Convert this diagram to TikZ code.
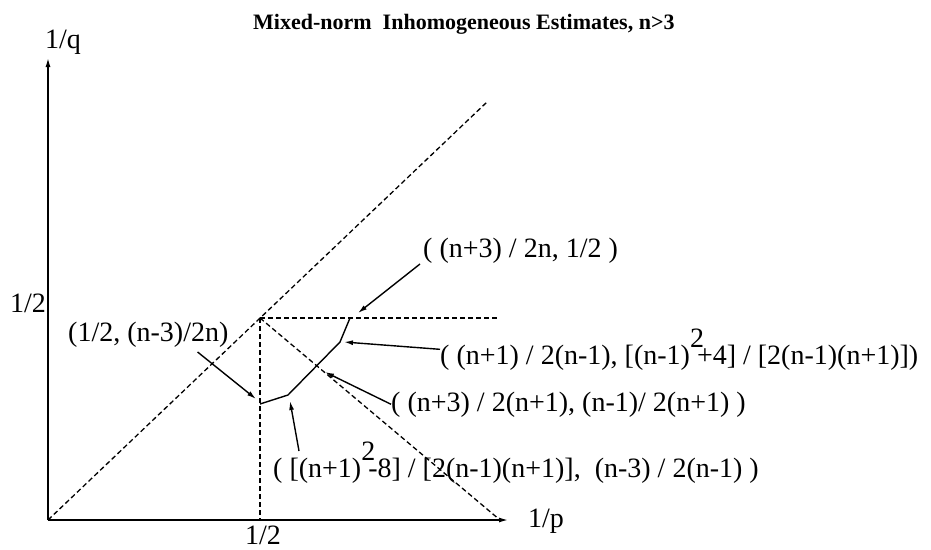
\documentclass[tikz,border=0pt]{standalone}
\usepackage{fontspec}
\setmainfont{Liberation Serif}
\usetikzlibrary{arrows.meta, positioning, calc}
\newcommand{\raisedtwo}{\raisebox{0.6em}{2}\kern-0.25em}
\tikzset{
  lbl/.style={inner sep=0pt, anchor=base west, font=\fontsize{28}{32}\selectfont},
  ttl/.style={inner sep=0pt, anchor=base west, font=\fontsize{22}{26}\selectfont\bfseries},
  axis/.style={-{Latex[length=9pt,width=5pt]}, line width=1.4pt},
  guide/.style={line width=1.3pt, dash pattern=on 5pt off 3pt},
  bound/.style={line width=1.4pt, line join=miter},
  arr/.style={-{Latex[length=9pt,width=5pt]}, line width=1.4pt},
}

\begin{document}
\begin{tikzpicture}[x=1pt, y=-1pt]
  \useasboundingbox (0,0) rectangle (931,549);
  % axes and guide lines
  \coordinate (O) at (48,520);
  \coordinate (half) at (260,318);
  \coordinate (qend) at (48,58);
  \coordinate (pend) at (508,520);
  \coordinate (diagend) at (487,102);
  \coordinate (horzend) at (499,318);
  \coordinate (vertend) at (260,520);
  \coordinate (antiend) at (500,520);
  \draw[axis] (O) -- (qend);
  \draw[axis] (O) -- (pend);
  \draw[guide] (O) -- (diagend);
  \draw[guide] (half) -- (horzend);
  \draw[guide] (half) -- (vertend);
  \draw[guide] (half) -- (antiend);
  % boundary of the region
  \coordinate (v1) at (260,404);
  \coordinate (v2) at (288,395);
  \coordinate (v3) at (340,342);
  \coordinate (v4) at (350,318);
  \draw[bound] (v1) -- (v2) -- (v3) -- (v4);
  % arrow tips
  \coordinate (tipA) at (256,399);
  \coordinate (tipB) at (290,401);
  \coordinate (tipC) at (325,372);
  \coordinate (tipD) at (344,342);
  \coordinate (tipE) at (358,313);
  % labels
  \node[ttl] (title) at (253,29) {Mixed-norm\ \ Inhomogeneous Estimates, n>3};
  \node[lbl] (qlab) at (45,48) {1/q};
  \node[lbl] (plab) at (528,527) {1/p};
  \node[lbl, anchor=base] (yhalf) at (28,312) {1/2};
  \node[lbl, anchor=base] (xhalf) at (263,544) {1/2};
  \node[lbl] (labA) at (68,341) {(1/2, (n-3)/2n)};
  \node[lbl] (labE) at (423,257) {( (n+3) / 2n, 1/2 )};
  \node[lbl] (labD) at (440,364) {( (n+1) / 2(n-1), [(n-1)\raisedtwo+4] / [2(n-1)(n+1)])};
  \node[lbl] (labC) at (391,411) {( (n+3) / 2(n+1), (n-1)/ 2(n+1) )};
  \node[lbl] (labB) at (273,477) {( [(n+1)\raisedtwo-8] / [2(n-1)(n+1)],\ \ (n-3) / 2(n-1) )};
  % pointers
  \draw[arr] ($(labA.base east)+(-31,11)$) -- (tipA);
  \draw[arr] ($(labB.base west)+(26,-26)$) -- (tipB);
  \draw[arr] (labC.west) -- (tipC);
  \draw[arr] (labD.west) -- (tipD);
  \draw[arr] ($(labE.base west)+(-3,7)$) -- (tipE);
\end{tikzpicture}
\end{document}
